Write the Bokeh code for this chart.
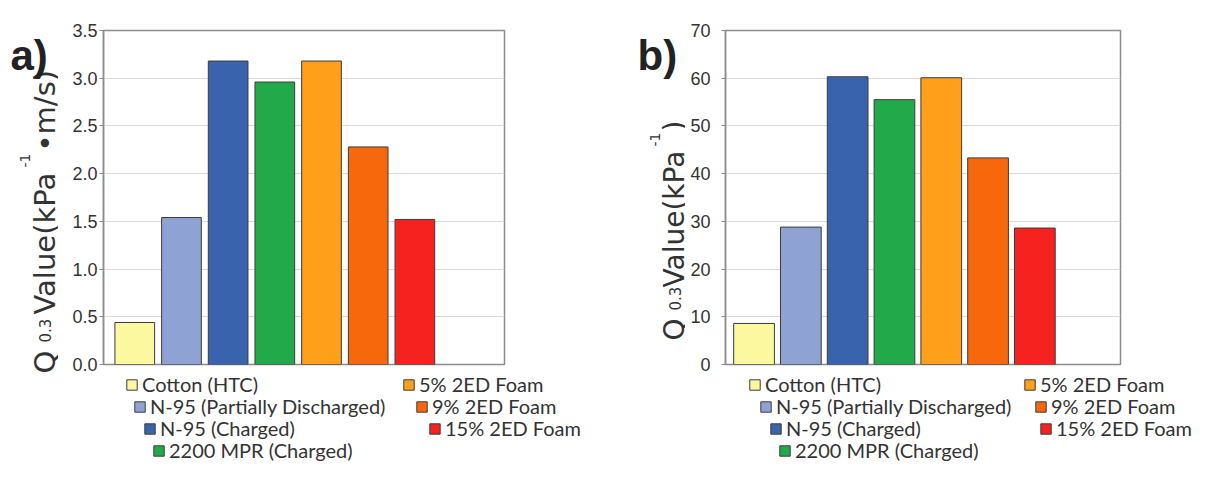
import math
from bokeh.plotting import figure
from bokeh.layouts import row, column
from bokeh.models import (Range1d, Legend, LegendItem, Label, FixedTicker,
                          PrintfTickFormatter, ColumnDataSource)
from bokeh.embed import file_html
from bokeh.resources import INLINE

# ---------------- data ----------------
categories = ["Cotton (HTC)", "N-95 (Partially Discharged)", "N-95 (Charged)",
              "2200 MPR (Charged)", "5% 2ED Foam", "9% 2ED Foam", "15% 2ED Foam"]
q_a = [0.44, 1.54, 3.18, 2.96, 3.18, 2.28, 1.52]
q_b = [8.6, 28.8, 60.3, 55.5, 60.1, 43.3, 28.6]
colors = ["#fbf8a0", "#8fa2d4", "#3a63ae", "#22aa4a", "#ff9f1a", "#f7670b", "#f5221f"]
yticks_a = [0.0, 0.5, 1.0, 1.5, 2.0, 2.5, 3.0, 3.5]
yticks_b = [0, 10, 20, 30, 40, 50, 60, 70]
# y-axis title pieces: (text, font size px)
ylabel_a = [("Q", 29), ("0.3", 15), ("Value(kPa", 29), ("-1", 14), ("\u2022m/s)", 29)]
ylabel_b = [("Q", 28), ("0.3", 15), ("Value(kPa", 28), ("-1", 14), (")", 28)]

# ---------------- layout constants ----------------
TOTAL_H = 461
MAIN_H = 372
LEG_H = TOTAL_H - MAIN_H
TOP = 30
BOTTOM = 8
legend_rows = [65, 43, 21, -1]
leg_row = [0, 1, 2, 3, 0, 1, 2]


def bare_figure(w, h):
    f = figure(width=w, height=h, title=None, x_range=Range1d(0, 1),
               y_range=Range1d(0, 1), x_axis_location=None,
               y_axis_location=None, output_backend="svg",
               toolbar_location=None, min_border=0, frame_align=False)
    f.outline_line_color = None
    f.grid.visible = False
    f.background_fill_color = "white"
    f.border_fill_color = "white"
    return f


def make_panel(values, ymax, ticks, fmt, xr, bar_w, panel_w, lab_w, left, right,
               standoff, ylabel, ylab_pos, letter, letter_x, leg_x):
    src = ColumnDataSource(dict(x=list(range(1, len(categories) + 1)),
                                top=values, color=colors, name=categories))

    # labels figure (left, full height)
    lf = bare_figure(lab_w, TOTAL_H)
    for (txt, size), (lx, ly) in zip(ylabel, ylab_pos):
        lf.add_layout(Label(x=lx, y=ly, x_units="screen", y_units="screen",
                            text=txt, angle=math.pi / 2, text_align="left",
                            text_baseline="alphabetic", text_font="DejaVu Sans",
                            text_font_size=f"{size}px", text_color="#333333"))
    lf.add_layout(Label(x=letter_x, y=406, x_units="screen", y_units="screen",
                        text=letter, text_font="Liberation Sans",
                        text_font_style="bold", text_font_size="42px",
                        text_color="#222222", text_baseline="alphabetic"))

    # main chart
    p = figure(width=panel_w - lab_w, height=MAIN_H, title=None,
               x_range=Range1d(*xr), y_range=Range1d(0, ymax),
               output_backend="svg", toolbar_location=None,
               min_border_left=left, min_border_right=right,
               min_border_top=TOP, min_border_bottom=BOTTOM,
               x_axis_location=None, frame_align=False)
    p.xgrid.visible = False
    p.ygrid.grid_line_color = "#d9d9d9"
    p.ygrid.grid_line_width = 1
    p.outline_line_color = "#8c8c8c"
    p.outline_line_width = 1.5
    p.background_fill_color = "white"
    p.border_fill_color = "white"

    ax = p.yaxis[0]
    ax.ticker = FixedTicker(ticks=ticks)
    ax.formatter = PrintfTickFormatter(format=fmt)
    ax.axis_line_color = "#8c8c8c"
    ax.axis_line_width = 1.5
    ax.major_tick_line_color = "#8c8c8c"
    ax.major_tick_out = 4
    ax.major_tick_in = 0
    ax.minor_tick_line_color = None
    ax.major_label_text_font = "Liberation Sans"
    ax.major_label_text_font_size = "18px"
    ax.major_label_text_color = "#333333"
    ax.major_label_standoff = standoff

    p.vbar(x="x", top="top", bottom=0, width=bar_w, source=src,
           fill_color="color", line_color="#3c3c3c", line_width=1)

    # legend figure (below the chart); its hidden bars only feed the legend keys
    gf = bare_figure(panel_w - lab_w, LEG_H)
    rl = gf.vbar(x="x", top="top", bottom=0, width=bar_w, source=src,
                 fill_color="color", line_color="#3c3c3c", line_width=1)
    rl.visible = False
    for i, cat in enumerate(categories):
        lg = Legend(items=[LegendItem(label=cat, renderers=[rl], index=i)],
                    location=(leg_x[i], legend_rows[leg_row[i]]),
                    glyph_width=13, glyph_height=13, label_standoff=4,
                    label_height=12, label_text_font="Lato",
                    label_text_font_size="20px", label_text_color="#333333",
                    padding=0, margin=0, spacing=0,
                    border_line_color=None, background_fill_alpha=0)
        gf.add_layout(lg)

    return row(lf, column(p, gf, spacing=0), spacing=0)


pa = make_panel(q_a, 3.5, yticks_a, "%.1f", (0.33, 8.92), 0.85, 605, 58, 45, 101, 2,
                ylabel_a, [(44, 88), (44, 119), (44, 147), (24, 294), (44, 310)],
                "a)", 10, [67, 75, 85, 94, 344, 357, 370])
pb = make_panel(q_b, 70, yticks_b, "%d", (0.39, 8.83), 0.87, 589, 80, 40, 74, 11,
                ylabel_b, [(69, 121), (69, 151), (69, 174), (49, 315), (69, 330)],
                "b)", 32, [63, 74, 84, 93, 338, 349, 354])

layout = row(pa, pb, spacing=0)
open("out.html", "w").write(file_html(layout, INLINE))
